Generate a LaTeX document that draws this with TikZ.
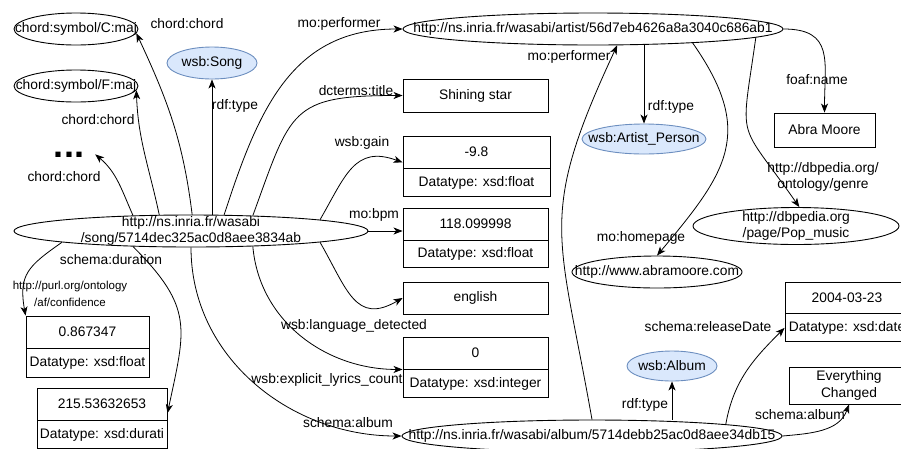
\documentclass[tikz,border=0pt]{standalone}
\usepackage{fontspec}
\setmainfont{Liberation Sans}
\usepackage{xcolor}
\usetikzlibrary{positioning,shapes.geometric,arrows.meta}

\definecolor{classfill}{HTML}{DAE8FC}
\definecolor{classdraw}{HTML}{6C8EBF}

\begin{document}
\begin{tikzpicture}[
    x=1pt, y=-1pt,
    every node/.style={font=\fontsize{13.8}{16.5}\selectfont},
    res/.style={ellipse, draw=black, fill=white, line width=0.9pt, inner sep=0pt},
    cls/.style={ellipse, draw=classdraw, fill=classfill, line width=0.9pt, inner sep=0pt},
    lit/.style={rectangle, draw=black, fill=white, line width=0.9pt, inner sep=0pt, align=center},
    dtype/.style={lit, below=0pt of #1},
    lbl/.style={inner sep=0pt, align=center},
    arrow/.style={-{Stealth[length=9pt, width=7pt, inset=2.5pt]}, line width=0.8pt}
]

% frame of the picture
\useasboundingbox (0,0) rectangle (901,448);
\clip (0,0) rectangle (901,448);

% Song resource (left)
\node[res, minimum width=354pt, minimum height=32pt, label={[align=center]center:{http://ns.inria.fr/wasabi\\/song/5714dec325ac0d8aee3834ab}}] (song) at (191,231) {};
\node[cls, minimum width=90pt, minimum height=32pt, label=center:{wsb:Song}] (songT) at (212,63) {};

% chords (top left)
\node[res, minimum width=124pt, minimum height=32pt, label=center:{chord:symbol/C:maj}] (cmaj) at (76,29) {};
\node[res, minimum width=124pt, minimum height=32pt, label=center:{chord:symbol/F:maj}] (fmaj) at (76,86) {};
\node[font=\bfseries\fontsize{36}{36}\selectfont, inner xsep=11pt, inner ysep=0pt, anchor=base] (dots) at (69,157) {...};

% literals (middle column)
\node[lit, minimum width=145pt, minimum height=33pt] (title) at (475.5,95.5) {Shining star};
\node[lit, minimum width=147pt, minimum height=32pt] (gain) at (476.5,152) {-9.8};
\node[dtype=gain, minimum width=147pt, minimum height=28pt] (gainT) {Datatype: xsd:float};
\node[lit, minimum width=145pt, minimum height=32pt] (bpm) at (475.5,224) {118.099998};
\node[dtype=bpm, minimum width=145pt, minimum height=27pt] (bpmT) {Datatype: xsd:float};
\node[lit, minimum width=145pt, minimum height=32pt] (english) at (475.5,298) {english};
\node[lit, minimum width=145pt, minimum height=32pt] (zero) at (475.5,353) {0};
\node[dtype=zero, minimum width=145pt, minimum height=28pt] (zeroT) {Datatype: xsd:integer};

% literals (bottom left)
\node[lit, minimum width=123pt, minimum height=32pt] (conf) at (87.5,332) {0.867347};
\node[dtype=conf, minimum width=123pt, minimum height=29pt] (confT) {Datatype: xsd:float};
\node[lit, minimum width=130pt, minimum height=32pt] (dur) at (102,404) {215.53632653};
\node[dtype=dur, minimum width=130pt, minimum height=28pt] (durT) {Datatype: xsd:durati};

% artist resource (top right)
\node[res, minimum width=380pt, minimum height=32pt, label=center:{http://ns.inria.fr/wasabi/artist/56d7eb4626a8a3040c686ab1}] (artist) at (593,29) {};
\node[cls, minimum width=124pt, minimum height=30pt, label=center:{wsb:Artist\_Person}] (artistT) at (644,139) {};
\node[lit, minimum width=101pt, minimum height=34pt] (abra) at (824.5,130) {Abra Moore};
\node[res, minimum width=206pt, minimum height=37pt, label={[align=center]center:{http://dbpedia.org\\/page/Pop\_music}}] (pop) at (796,226) {};
\node[res, minimum width=170pt, minimum height=32pt, label=center:{http://www.abramoore.com}] (home) at (657,272) {};

% album resource (bottom right)
\node[res, minimum width=380pt, minimum height=32pt, label=center:{http://ns.inria.fr/wasabi/album/5714debb25ac0d8aee34db15}] (album) at (592,436) {};
\node[cls, minimum width=90pt, minimum height=30pt, label=center:{wsb:Album}] (albumT) at (672,366) {};
\node[lit, minimum width=124pt, minimum height=31pt] (date) at (847,297.5) {2004-03-23};
\node[dtype=date, minimum width=124pt, minimum height=28pt] (dateT) {Datatype: xsd:date};
\node[lit, minimum width=120pt, minimum height=37pt] (ever) at (849,385.5) {Everything\\Changed};

% edges from the song
\draw[arrow] (song.165) to[out=114, in=-40] (dots.east);
\draw[arrow] (song.153) to[out=102, in=-88] (fmaj.-4);
\draw[arrow] (song.86) to[out=97, in=-65] (cmaj.-4);
\draw[arrow] (songT.south |- song.north) -- (songT.south);
\draw[arrow] (song.26) to[out=72, in=180, looseness=1.1] (artist.west);
\draw[arrow] (song.14) to[out=70, in=180, looseness=1.5] (title.west);
\draw[arrow] (song.5) to[out=60, in=160, looseness=1.3] (gain.188);
\draw[arrow] (song.east) -- (song.east -| bpm.west);
\draw[arrow] (song.-5) to[out=-60, in=-150, looseness=1.4] (english.west);
\draw[arrow] (song.-14) to[out=-85, in=180] (zero.south west);
\draw[arrow] (song.south) to[out=-90, in=180] (album.west);
\draw[arrow] (song.-165) to[out=-45, in=78, looseness=1.3] (dur.-8);
\draw[arrow] (song.185) to[out=-145, in=100, looseness=1.3] (conf.north west);

% edges from the artist
\draw[arrow] (artistT.north |- artist.south) -- (artistT.north);
\draw[arrow] (artist.east) to[out=0, in=90, looseness=1.4] (abra.north);
\draw[arrow] (artist.-8) to[out=-55, in=50, looseness=1.3] (home.north);
\draw[arrow] (artist.-3) to[out=-98, in=125, looseness=1.6] (pop.80);

% edges from the album
\draw[arrow] (album.north) to[out=100, in=-115, looseness=1.3] (artist.-34);
\draw[arrow] (albumT.south |- album.north) -- (albumT.south);
\draw[arrow] (album.5) to[out=80, in=-135] (dateT.west);
\draw[arrow] (album.east) to[out=5, in=-110] (ever.south);

% edge labels
\node[lbl] (lCmaj) at (187,24) {chord:chord};
\node[lbl] (lFmaj) at (98,120) {chord:chord};
\node[lbl] (lDots) at (64,177) {chord:chord};
\node[lbl] (lSongT) at (235,106) {rdf:type};
\node[lbl] (lPerf) at (339,24) {mo:performer};
\node[lbl] (lTitle) at (356,91) {dcterms:title};
\node[lbl] (lGain) at (362,143) {wsb:gain};
\node[lbl] (lBpm) at (374,215) {mo:bpm};
\node[lbl] (lLang) at (354,326) {wsb:language\_detected};
\node[lbl] (lLyr) at (327,380) {wsb:explicit\_lyrics\_count};
\node[lbl] (lAlbum) at (348,423) {schema:album};
\node[lbl] (lDur) at (111,260) {schema:duration};
\node[lbl, font=\fontsize{11.5}{17}\selectfont] (lConf) at (70,293.5) {http://purl.org/ontology\\/af/confidence};
\node[lbl] (lPerf2) at (569,57) {mo:performer};
\node[lbl] (lArtT) at (671,107) {rdf:type};
\node[lbl] (lName) at (817,80) {foaf:name};
\node[lbl] (lGenre) at (823,177) {http://dbpedia.org/\\ontology/genre};
\node[lbl] (lHome) at (641,238) {mo:homepage};
\node[lbl] (lAlbT) at (645,405) {rdf:type};
\node[lbl] (lDate) at (708,327) {schema:releaseDate};
\node[lbl] (lAlb2) at (800,415) {schema:album};

\end{tikzpicture}
\end{document}
